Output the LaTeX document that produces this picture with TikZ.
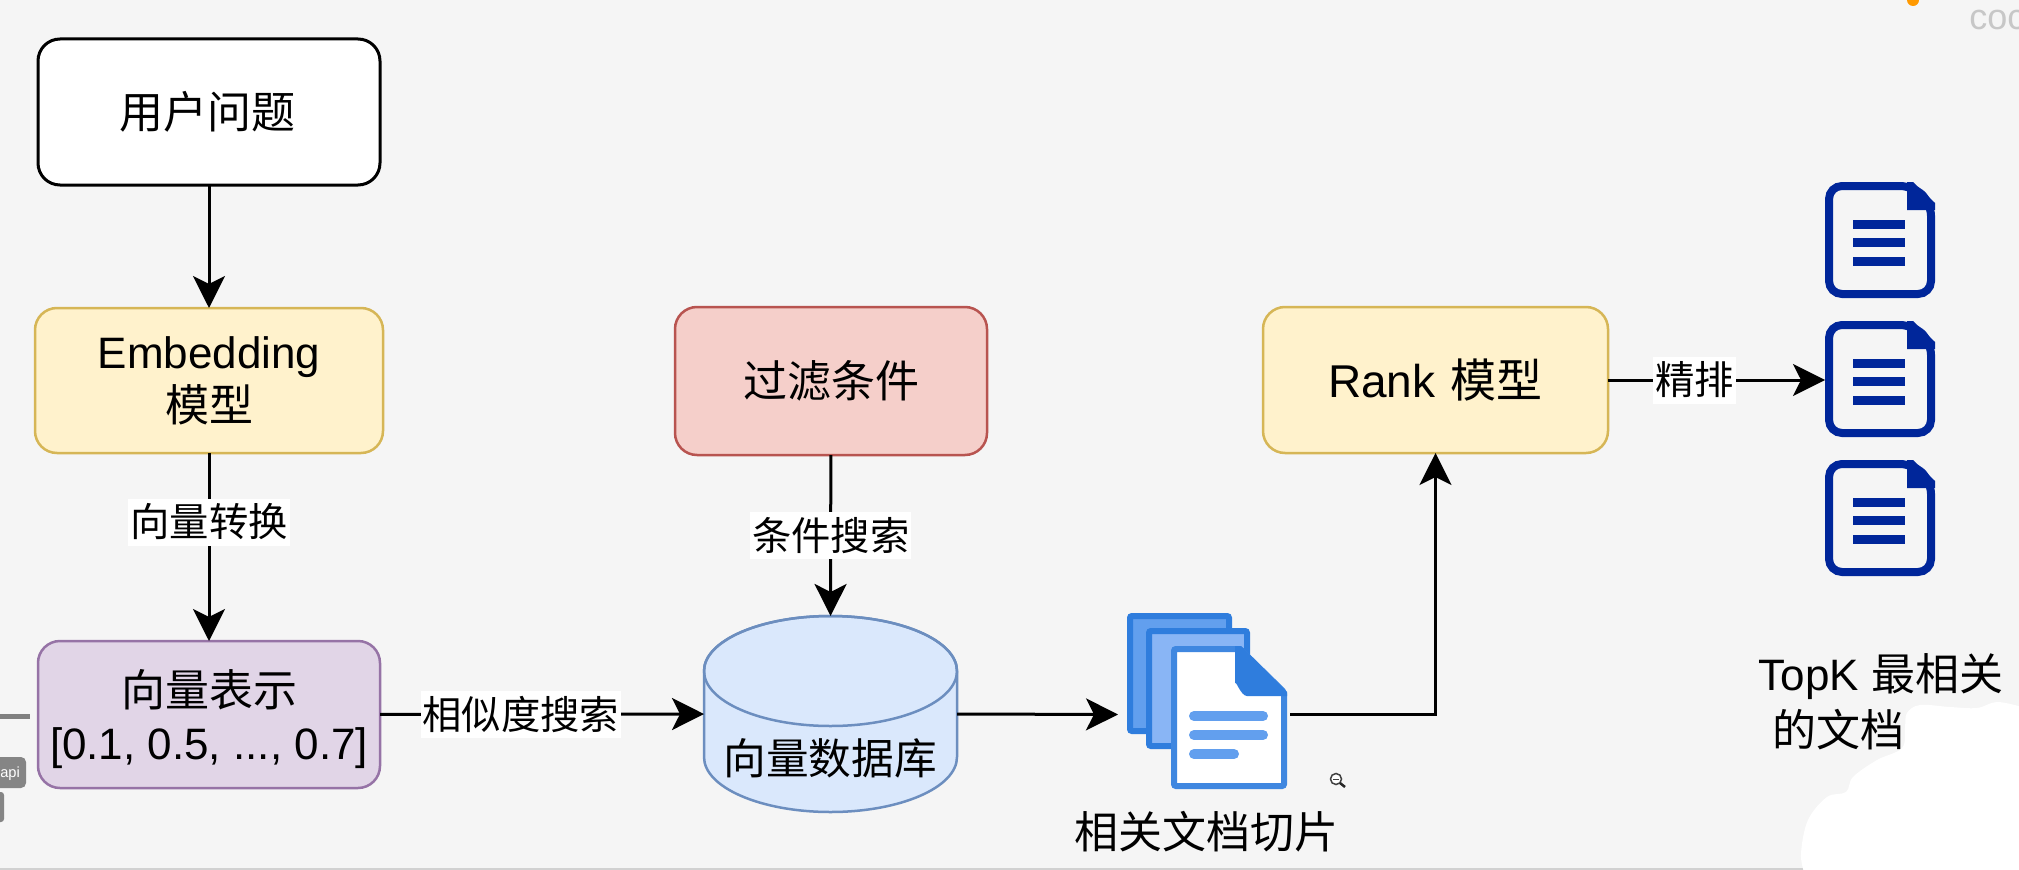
\documentclass[tikz,border=0pt]{standalone}
\usepackage{fontspec}
\setmainfont{Liberation Sans}
\newfontfamily\cjk{Noto Sans CJK SC}
\usetikzlibrary{arrows.meta}
\def\pxu{0.75pt}
\definecolor{bgc}{HTML}{F5F5F5}
\definecolor{navyc}{HTML}{00269A}
\definecolor{bluea}{HTML}{2F7DDD}
\definecolor{blueb}{HTML}{629FEE}
\definecolor{bluec}{HTML}{89B5F5}
\definecolor{blued}{HTML}{3F87E0}
\definecolor{yellowfill}{HTML}{FFF2CC}
\definecolor{yellowline}{HTML}{D6B656}
\definecolor{purplefill}{HTML}{E1D5E7}
\definecolor{purpleline}{HTML}{9673A6}
\definecolor{redfill}{HTML}{F5CFCA}
\definecolor{redline}{HTML}{B85450}
\definecolor{dbfill}{HTML}{DAE8FC}
\definecolor{dbline}{HTML}{6C8EBF}
\tikzset{
  basebox/.style={rectangle,rounded corners=22*\pxu,inner sep=0pt,outer sep=0pt,align=center,
    font=\fontsize{33}{40}\selectfont},
  userbox/.style={basebox,draw=black,fill=white,line width=3*\pxu,minimum width=342*\pxu,minimum height=146*\pxu},
  yellowbox/.style={basebox,draw=yellowline,fill=yellowfill,line width=2.5*\pxu},
  purplebox/.style={basebox,draw=purpleline,fill=purplefill,line width=2.5*\pxu,minimum width=342*\pxu,minimum height=147*\pxu},
  redbox/.style={basebox,draw=redline,fill=redfill,line width=2.5*\pxu,minimum width=312*\pxu,minimum height=148*\pxu},
  anchorbox/.style={rectangle,inner sep=0pt,outer sep=0pt},
  plaintext/.style={inner sep=0pt,outer sep=0pt,align=center,font=\fontsize{33}{40}\selectfont},
  edgelabel/.style={fill=white,inner xsep=2*\pxu,inner ysep=0pt,minimum height=47*\pxu,
    font=\cjk\fontsize{29.5}{36}\selectfont},
  conn/.style={draw=black,line width=3*\pxu,-{Stealth[length=32*\pxu,width=32*\pxu,inset=8*\pxu]}},
  navydoc/.pic={
    \draw[navyc,line width=8*\pxu,rounded corners=13*\pxu] (-51,-54) -- (33,-54) -- (51,-37) -- (51,54) -- (-51,54) -- cycle;
    \fill[navyc] (27,-58) -- (33,-58) -- (55,-37) -- (55,-30) -- (27,-30) -- cycle;
    \fill[navyc] (-27,-20.5) rectangle (25,-11.5);
    \fill[navyc] (-27,-2.5) rectangle (25,6.5);
    \fill[navyc] (-27,16.5) rectangle (25,25.5);
  }
}
\begin{document}
\begin{tikzpicture}[x=0.75pt,y=-0.75pt]
\clip (0,0) rectangle (2019,870);
\useasboundingbox (0,0) rectangle (2019,870);
\fill[bgc] (0,0) rectangle (2019,870);
\fill[black!18] (0,867.5) rectangle (2019,870);

% stray screen bits
\fill[orange!80!yellow] (1913,0) circle (6);
\node[inner sep=0pt,anchor=base west,text=black!22,font=\fontsize{27}{30}\selectfont] (coc) at (1969,30) {coc};
\fill[black!50] (0,714) rectangle (30,718.5);
\fill[black!48,rounded corners=5*\pxu] (-10,757) rectangle (26,788);
\node[inner sep=0pt,anchor=base west,text=white,font=\fontsize{11}{12}\selectfont] (apitag) at (0,777) {api};
\fill[black!48,rounded corners=3*\pxu] (-10,792) rectangle (4,822);

% boxes
\node[userbox] (user) at (209,112) {};
\node[plaintext] (usertext) at (207,112) {\cjk 用户问题};
\node[yellowbox,minimum width=348*\pxu,minimum height=145*\pxu] (embed) at (209,380.5) {Embedding\\{\cjk 模型}};
\node[purplebox] (vec) at (209,714.5) {};
\node[plaintext] (vectext) at (209,719) {{\cjk 向量表示}\\{[0.1, 0.5, ..., 0.7]}};
\node[redbox] (filter) at (831,381) {\cjk 过滤条件};
\node[yellowbox,minimum width=345*\pxu,minimum height=146*\pxu,font=\fontsize{34.5}{40}\selectfont] (rank) at (1435.5,380) {Rank\hspace{2pt} {\cjk 模型}};

% database
\node[anchorbox,minimum width=253*\pxu,minimum height=196*\pxu] (db) at (830.5,714) {};
\path[draw=dbline,fill=dbfill,line width=2.5*\pxu]
  (704,671) -- (704,757) arc[start angle=180,delta angle=-180,x radius=126.5,y radius=55] -- (957,671)
  arc[start angle=0,delta angle=-180,x radius=126.5,y radius=55] -- cycle;
\draw[dbline,line width=2.5*\pxu] (830.5,671) ellipse[x radius=126.5,y radius=55];
\node[plaintext,font=\fontsize{32}{40}\selectfont] (dbtext) at (830,758) {\cjk 向量数据库};

% blue stack of documents
\node[anchorbox,minimum width=172*\pxu,minimum height=150*\pxu] (docs) at (1204,714.5) {};
\draw[bluea,fill=blueb,line width=6*\pxu,rounded corners=2*\pxu] (1130,616) rectangle (1229,731);
\draw[bluea,fill=bluec,line width=6*\pxu,rounded corners=2*\pxu] (1149,631) rectangle (1247,746);
\draw[blued,fill=white,line width=6*\pxu,rounded corners=2*\pxu] (1174,649) -- (1240,649) -- (1284,692) -- (1284,786) -- (1174,786) -- cycle;
\fill[bluea] (1235,646) -- (1241,646) -- (1287,692) -- (1287,696) -- (1247,696) to[out=180,in=90] (1235,684) -- cycle;
\draw[blueb,line width=10*\pxu,line cap=round] (1194,716) -- (1263,716);
\draw[blueb,line width=10*\pxu,line cap=round] (1194,735) -- (1263,735);
\draw[blueb,line width=10*\pxu,line cap=round] (1194,754) -- (1234,754);
\node[plaintext] (docstext) at (1206,832) {\cjk 相关文档切片};

% navy result documents
\pic at (1880,240) {navydoc};
\pic at (1880,379) {navydoc};
\pic at (1880,518) {navydoc};
\node[anchorbox,minimum width=110*\pxu,minimum height=116*\pxu] (result) at (1880,380) {};

% connectors
\draw[conn] (user) -- (embed);
\draw[conn] (embed) -- node[edgelabel,pos=0.367] (lab1) {向量转换} (vec);
\draw[conn] (vec) -- node[edgelabel,pos=0.435] (lab2) {相似度搜索} (db.west);
\draw[conn] (filter) -- node[edgelabel,pos=0.5] (lab3) {条件搜索} (db.north);
\draw[conn] (db.east) -- (docs.west);
\draw[conn] (docs.east) -| (rank.south);
\draw[conn] (rank) -- node[edgelabel,pos=0.4] (lab4) {精排} (result.west);

% result caption
\node[plaintext] (top1) at (1881,677) {TopK {\cjk 最相关}};
\node[plaintext] (top2) at (1838,730) {\cjk 的文档};

% white blot
\fill[white] plot[smooth,tension=0.6] coordinates {(1804,872) (1801,853) (1808,820) (1827,797) (1846,792) (1853,777) (1877,760) (1902,748) (1905,727) (1907,713) (1920,705) (1950,707) (1977,708) (1997,702) (2022,707)} -- (2022,872) -- cycle;

% magnifier cursor
\draw[black!75,line width=1.5*\pxu,fill=white] (1336,779) circle (5.5);
\draw[black!75,line width=1*\pxu] (1333,779) -- (1339,779);
\draw[black!85,line width=2.5*\pxu] (1340,783) -- (1345,787);
\end{tikzpicture}
\end{document}
